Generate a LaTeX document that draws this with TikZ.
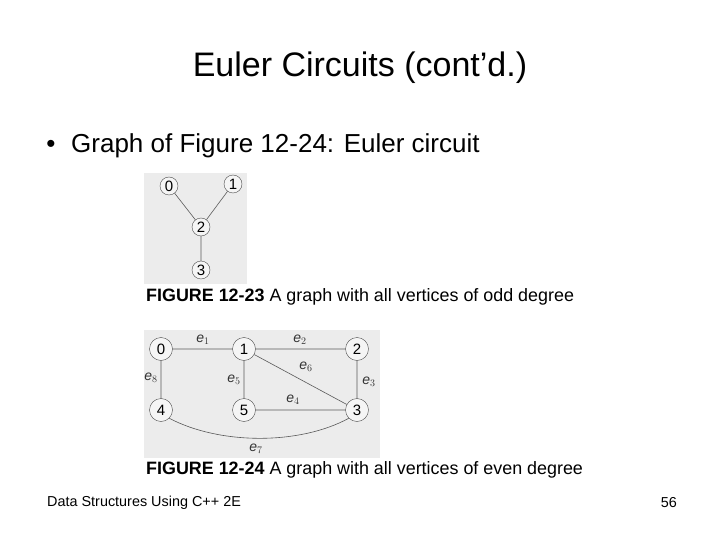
\documentclass[tikz,border=0pt]{standalone}
\usepackage{fontspec}
\setmainfont{Liberation Sans}
\begin{document}
\begin{tikzpicture}[x=1pt,y=-1pt,
 v/.style={circle,draw=black!70,fill=gray!8,minimum size=#1,inner sep=0pt,font=\fontsize{15}{15}\selectfont},
 ed/.style={draw=black!65,line width=0.6pt},
 el/.style={font=\fontsize{14}{14}\selectfont\itshape,text=black!80}]
\useasboundingbox (0,0) rectangle (720,540);
\node (title) at (360,68) {\fontsize{34}{40}\selectfont Euler Circuits (cont’d.)};
\node (bdot) at (51,146) {\fontsize{26}{30}\selectfont •};
\node[anchor=west,inner sep=0pt] (bul) at (71,146) {\fontsize{26}{30}\selectfont Graph of Figure 12-24: Euler circuit};
% fig 12-23
\fill[gray!15] (144,173) rectangle (247,284);
\node[v=18pt] (a0) at (169,186) {0};
\node[v=18pt] (a1) at (233,184) {1};
\node[v=18pt] (a2) at (201,227) {2};
\node[v=18pt] (a3) at (201,270) {3};
\draw[ed] (a0)--(a2) (a1)--(a2) (a2)--(a3);
\node[anchor=west,inner sep=0pt] (c1) at (146,297) {\fontsize{17.9}{20}\selectfont\textbf{FIGURE 12-23} A graph with all vertices of odd degree};
% fig 12-24
\fill[gray!15] (144,330) rectangle (380,458);
\node[v=23pt] (b0) at (161,349) {0};
\node[v=23pt] (b1) at (244,349) {1};
\node[v=23pt] (b2) at (357,349) {2};
\node[v=23pt] (b3) at (357,410) {3};
\node[v=23pt] (b4) at (161,410) {4};
\node[v=23pt] (b5) at (244,410) {5};
\draw[ed] (b0)--(b1) (b1)--(b2) (b2)--(b3) (b5)--(b3) (b1)--(b3) (b1)--(b5) (b0)--(b4);
\draw[ed] (b4.south east) .. controls (220,445) and (300,445) .. (b3.south west);
\node[el] (l1) at (203,340) {e$_1$};
\node[el] (l2) at (300,340) {e$_2$};
\node[el] (l6) at (306,367) {e$_6$};
\node[el] (l5) at (234,380) {e$_5$};
\node[el] (l3) at (369,382) {e$_3$};
\node[el] (l4) at (293,400) {e$_4$};
\node[el] (l8) at (151,378) {e$_8$};
\node[el] (l7) at (256,449) {e$_7$};
\node[anchor=west,inner sep=0pt] (c2) at (146,470) {\fontsize{17.9}{20}\selectfont\textbf{FIGURE 12-24} A graph with all vertices of even degree};
\node[anchor=west,inner sep=0pt] (f1) at (47,503) {\fontsize{14.4}{16}\selectfont Data Structures Using C++ 2E};
\node[anchor=east,inner sep=0pt] (f2) at (677,503) {\fontsize{14.4}{16}\selectfont 56};
\end{tikzpicture}
\end{document}
